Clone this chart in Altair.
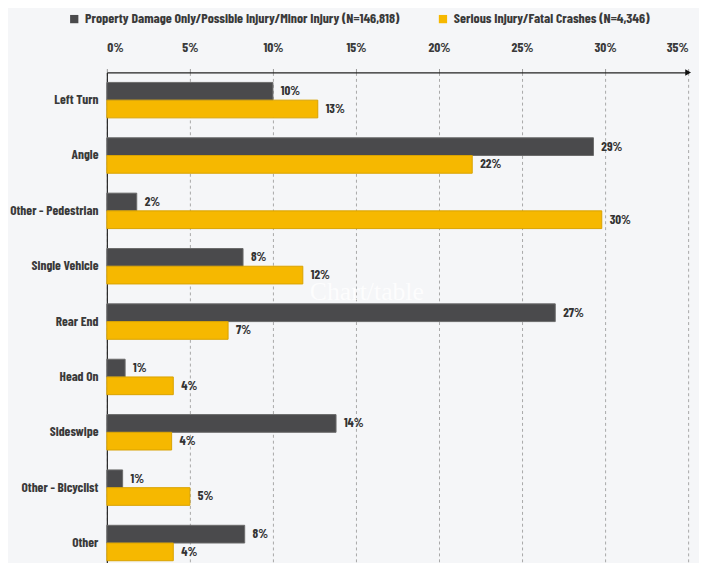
import altair as alt
import pandas as pd

categories = ["Left Turn", "Angle", "Other - Pedestrian", "Single Vehicle", "Rear End",
              "Head On", "Sideswipe", "Other - Bicyclist", "Other"]
series_names = ["Property Damage Only/Possible Injury/Minor Injury (N=146,818)",
                "Serious Injury/Fatal Crashes (N=4,346)"]
pdo_values = [10.0, 29.3, 1.8, 8.2, 27.0, 1.1, 13.8, 0.95, 8.3]
ksi_values = [12.7, 22.0, 29.8, 11.8, 7.3, 4.0, 3.9, 5.0, 4.0]
pdo_labels = ["10%", "29%", "2%", "8%", "27%", "1%", "14%", "1%", "8%"]
ksi_labels = ["13%", "22%", "30%", "12%", "7%", "4%", "4%", "5%", "4%"]
x_ticks = [0, 5, 10, 15, 20, 25, 30, 35]
colors = ["#4a4a4c", "#f6b800"]
strokes = ["#6b6b6b", "#d9a200"]

rows = []
for i, c in enumerate(categories):
    rows.append({"cat": c, "series": series_names[0], "order": 0, "value": pdo_values[i], "label": pdo_labels[i]})
    rows.append({"cat": c, "series": series_names[1], "order": 1, "value": ksi_values[i], "label": ksi_labels[i]})
df = pd.DataFrame(rows)

FONT = "Barlow Condensed"

y_enc = alt.Y("cat:N", sort=categories, title=None,
              scale=alt.Scale(paddingInner=0.36, paddingOuter=0.18, range=[0, 504]),
              axis=alt.Axis(ticks=False, labelPadding=9, labelFont=FONT, labelFontSize=13.5,
                            labelFontWeight="bold", labelColor="#3a3a3a", domainColor="#222222",
                            domainWidth=1.2, grid=False))
x_scale = alt.Scale(domain=[0, 35], nice=False)

bars = alt.Chart(df).mark_bar(strokeWidth=1).encode(
    x=alt.X("value:Q", scale=x_scale, title=None,
            axis=alt.Axis(orient="top", values=x_ticks, labelExpr="datum.value + '%'",
                          labelFont=FONT, labelFontSize=13.5, labelFontWeight="bold",
                          labelColor="#3a3a3a", labelPadding=14, tickSize=4,
                          tickColor="#999999", domainColor="#222222", domainWidth=1.2,
                          grid=True, gridDash=[3, 3], gridColor="#a8a8a8", gridWidth=1)),
    y=y_enc,
    yOffset=alt.YOffset("order:O", scale=alt.Scale(paddingInner=0.0)),
    color=alt.Color("series:N", sort=series_names,
                    scale=alt.Scale(domain=series_names, range=colors),
                    legend=alt.Legend(title=None, orient="none", legendX=-40, legendY=-61,
                                      direction="horizontal", symbolType="square",
                                      symbolSize=70, columnPadding=36, labelFont=FONT,
                                      labelFontSize=14, labelFontWeight="bold",
                                      labelColor="#3a3a3a", labelLimit=400,
                                      symbolStrokeWidth=0)),
    stroke=alt.Stroke("series:N", scale=alt.Scale(domain=series_names, range=strokes), legend=None),
)

labels = alt.Chart(df).mark_text(align="left", baseline="middle", dx=8, font=FONT,
                                 fontSize=13, fontWeight="bold", color="#333333").encode(
    x=alt.X("value:Q", scale=x_scale),
    y=alt.Y("cat:N", sort=categories),
    yOffset=alt.YOffset("order:O"),
    text="label:N",
)

arrow_df = pd.DataFrame({"v": [35]})
arrow = alt.Chart(arrow_df).mark_point(shape="triangle-right", filled=True, size=45,
                                       color="#111111", opacity=1).encode(
    x=alt.X("v:Q", scale=x_scale), y=alt.value(0)
)

wm_df = pd.DataFrame({"t": ["Chart/table"]})
watermark = alt.Chart(wm_df).mark_text(font="Liberation Serif, DejaVu Serif, serif", fontSize=26,
                                       color="#ffffff", opacity=0.85, align="center").encode(
    text="t:N", x=alt.value(263), y=alt.value(222)
)

chart = alt.layer(bars, labels, arrow, watermark).properties(
    width=588, height=493,
    background="#f5f6f8",
    padding={"left": 100, "top": 62, "right": 11, "bottom": 0},
    autosize=alt.AutoSizeParams(type="none"),
).configure_view(stroke=None)

chart.save("out.html", embed_options={"renderer": "svg", "actions": False})
